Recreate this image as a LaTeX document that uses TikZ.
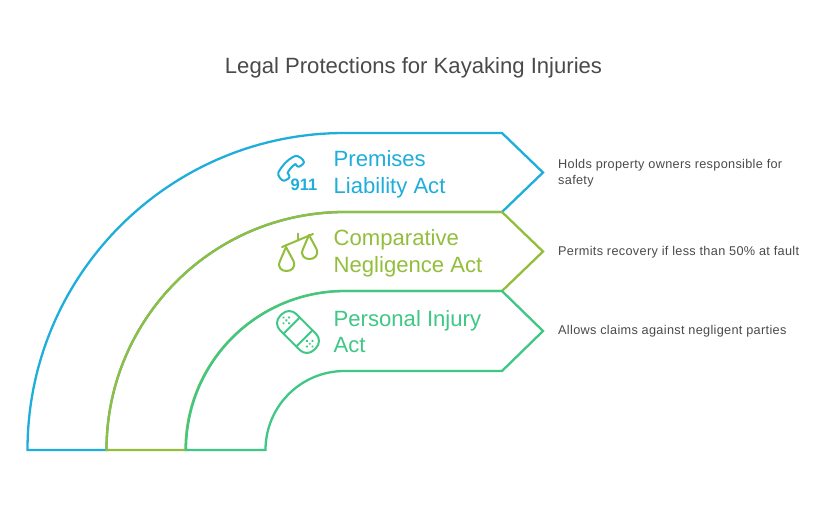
\documentclass[tikz,border=0pt]{standalone}
\usepackage{fontspec}
\setmainfont{Liberation Sans}
\newfontfamily\descfont[LetterSpace=2.5]{Liberation Sans}
\definecolor{cblue}{HTML}{1EAEDB}
\definecolor{cgreen}{HTML}{93BE3C}
\definecolor{cteal}{HTML}{3EC785}
\definecolor{cgrey}{HTML}{4A4A4A}
\tikzset{
  band/.style={line width=2.3pt,line join=miter},
  ico/.style={line width=2pt,line join=round,line cap=round},
  titletext/.style={anchor=center,text=cgrey,inner sep=0pt,font=\fontsize{22.1}{26}\selectfont},
  labeltext/.style={anchor=west,align=left,inner sep=0pt,font=\fontsize{22.1}{26.5}\selectfont},
  desctext/.style={anchor=west,align=left,inner sep=0pt,text=cgrey,font=\descfont\fontsize{12.7}{16}\selectfont}
}
\begin{document}
\begin{tikzpicture}[x=1pt,y=-1pt]
\useasboundingbox (0,0) rectangle (821,504);
\fill[white] (0,0) rectangle (821,504);
\node[titletext] (title) at (413.5,68) {Legal Protections for Kayaking Injuries};
% bands
\draw[band,cblue] (27.5,450) arc[start angle=180,end angle=270,radius=317] -- (502,133) -- (543,172.5) -- (502,212) -- (344.5,212) arc[start angle=270,end angle=180,radius=238] -- cycle;
\draw[band,cgreen] (106.5,450) arc[start angle=180,end angle=270,radius=238] -- (502,212) -- (543,251.5) -- (502,291) -- (344.5,291) arc[start angle=270,end angle=180,radius=159] -- cycle;
\draw[band,cteal] (186,450) arc[start angle=180,end angle=270,radius=159] -- (502,291) -- (543,331) -- (502,371) -- (344.5,371) arc[start angle=270,end angle=180,radius=79] -- cycle;
% labels
\node[labeltext,text=cblue] (l1) at (333.5,174.5) {Premises\\Liability Act};
\node[labeltext,text=cgreen] (l2) at (333.5,253.5) {Comparative\\Negligence Act};
\node[labeltext,text=cteal] (l3) at (333.5,331.5) {Personal Injury\\Act};
% descriptions
\node[desctext] (d1) at (558,173.5) {Holds property owners responsible for\\safety};
\node[desctext] (d2) at (558,252.5) {Permits recovery if less than 50\% at fault};
\node[desctext] (d3) at (558,331.5) {Allows claims against negligent parties};
% phone icon
\draw[ico,cblue] (278.5,172) .. controls (282,166) and (287,160) .. (293,157) .. controls (296,155) and (299,156) .. (301,158) -- (303,160) .. controls (304.5,161.5) and (304,163) .. (303,164) -- (300.5,166) .. controls (299.5,167) and (298,167) .. (297,166) -- (295.5,164) .. controls (292,166) and (289,170) .. (287.5,173) -- (289,175) .. controls (290,176.5) and (289.5,177.5) .. (288.5,178.5) -- (286,180) .. controls (285,181) and (283,181) .. (282,180) -- (280,178) .. controls (278.5,176.5) and (277.5,174) .. (278.5,172) -- cycle;
\node[anchor=center,inner sep=0pt,text=cblue,font=\bfseries\fontsize{16.5}{18}\selectfont] (n911) at (304,184.5) {911};
% scales icon
\draw[ico,cgreen] (282,247) -- (313,234);
\draw[ico,cgreen] (298,240.5) -- (298,233.5);
\draw[ico,cgreen] (286,247) -- (280,261) .. controls (277,268) and (282,271) .. (286.5,271) .. controls (291,271) and (296,268) .. (293.5,261) -- (286,247);
\draw[ico,cgreen] (309,235) -- (303,249) .. controls (300,256) and (305,259) .. (309.5,259) .. controls (314,259) and (319,256) .. (316.5,249) -- (309,235);
% bandage icon
\begin{scope}[shift={(298,332)},rotate=-45]
\draw[ico,cteal,rounded corners=10pt] (-24,-11.5) rectangle (24,11.5);
\draw[ico,cteal] (-9,-11.5) -- (-9,11.5);
\draw[ico,cteal] (9,-11.5) -- (9,11.5);
\foreach \p in {(-16.5,-4),(-16.5,4),(-16.5,0),(-12.5,0),(-20.5,0),(16.5,-4),(16.5,4),(16.5,0),(12.5,0),(20.5,0)}
  \fill[cteal] \p circle (1.3);
\end{scope}
\end{tikzpicture}
\end{document}
